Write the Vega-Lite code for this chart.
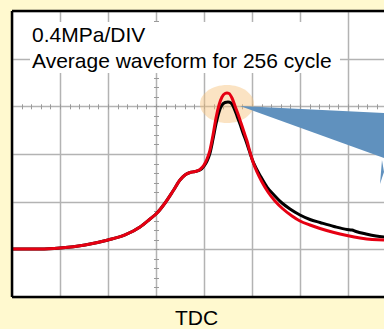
{
  "$schema": "https://vega.github.io/schema/vega-lite/v6.json",
  "autosize": "none",
  "width": 372,
  "height": 286,
  "padding": {"left": 12, "top": 11, "right": 0, "bottom": 32},
  "background": "#FFF9CF",
  "config": {"view": {"stroke": null, "fill": "white"}},
  "resolve": {"axis": {"x": "independent", "y": "independent"}},
  "layer": [
    {
      "data": {"values": [{}]},
      "mark": {"type": "point", "filled": true, "shape": "M-1.42,0A1.42,1 0 1,1 1.42,0A1.42,1 0 1,1 -1.42,0Z", "size": 1444, "color": "#F7C27A", "opacity": 0.45, "strokeWidth": 0},
      "encoding": {
        "x": {"datum": 4.479, "type": "quantitative", "scale": {"domain": [0, 7.75], "nice": false, "zero": false}, "axis": null},
        "y": {"datum": 4.049, "type": "quantitative", "scale": {"domain": [0, 6], "nice": false, "zero": false}, "axis": null}
      }
    },
    {
      "data": {"values": [
        {"part": "wedge", "x": 4.75, "top": 4.007, "bot": 4.007},
        {"part": "wedge", "x": 7.75, "top": 3.860, "bot": 2.916},
        {"part": "spike", "x": 7.667, "top": 2.370, "bot": 2.370},
        {"part": "spike", "x": 7.708, "top": 2.874, "bot": 2.496},
        {"part": "spike", "x": 7.75, "top": 2.622, "bot": 2.622}
      ]},
      "mark": {"type": "area", "color": "#6091BE", "clip": true, "opacity": 1},
      "encoding": {
        "x": {"field": "x", "type": "quantitative", "scale": {"domain": [0, 7.75], "nice": false, "zero": false}, "axis": null},
        "y": {"field": "top", "type": "quantitative", "scale": {"domain": [0, 6], "nice": false, "zero": false}, "axis": null},
        "y2": {"field": "bot"},
        "detail": {"field": "part"}
      }
    },
    {
      "data": {"values": [
        {"x": 0, "p": 1.007}, {"x": 0.583, "p": 1.007}, {"x": 1.0, "p": 1.028}, {"x": 1.521, "p": 1.091},
        {"x": 2.0, "p": 1.196}, {"x": 2.354, "p": 1.301}, {"x": 2.667, "p": 1.468}, {"x": 2.875, "p": 1.636},
        {"x": 3.021, "p": 1.762}, {"x": 3.188, "p": 1.972}, {"x": 3.354, "p": 2.224}, {"x": 3.5, "p": 2.454},
        {"x": 3.604, "p": 2.559}, {"x": 3.708, "p": 2.612}, {"x": 3.813, "p": 2.633},
        {"x": 3.917, "p": 2.664}, {"x": 4.0, "p": 2.748}, {"x": 4.063, "p": 2.853}, {"x": 4.125, "p": 3.021},
        {"x": 4.188, "p": 3.314}, {"x": 4.25, "p": 3.629}, {"x": 4.313, "p": 3.881}, {"x": 4.375, "p": 4.028},
        {"x": 4.438, "p": 4.080}, {"x": 4.5, "p": 4.091}, {"x": 4.563, "p": 4.070}, {"x": 4.625, "p": 3.965},
        {"x": 4.688, "p": 3.797}, {"x": 4.75, "p": 3.629}, {"x": 4.813, "p": 3.440}, {"x": 4.875, "p": 3.272},
        {"x": 4.938, "p": 3.084}, {"x": 5.0, "p": 2.895}, {"x": 5.083, "p": 2.706}, {"x": 5.188, "p": 2.517},
        {"x": 5.313, "p": 2.307}, {"x": 5.458, "p": 2.140}, {"x": 5.625, "p": 1.972}, {"x": 5.792, "p": 1.846},
        {"x": 6.0, "p": 1.720}, {"x": 6.208, "p": 1.626}, {"x": 6.417, "p": 1.563}, {"x": 6.708, "p": 1.479},
        {"x": 6.979, "p": 1.416}, {"x": 7.083, "p": 1.405}, {"x": 7.167, "p": 1.374}, {"x": 7.375, "p": 1.322},
        {"x": 7.583, "p": 1.280}, {"x": 7.917, "p": 1.248}
      ]},
      "mark": {"type": "line", "color": "#000000", "strokeWidth": 3, "interpolate": "monotone", "clip": true},
      "encoding": {
        "x": {"field": "x", "type": "quantitative", "scale": {"domain": [0, 7.75], "nice": false, "zero": false},
          "axis": {"orient": "bottom", "values": [0, 1, 2, 3, 4, 5, 6, 7], "grid": true, "gridColor": "#B3B3B3", "gridWidth": 1.5,
            "labels": false, "ticks": false, "domain": false, "title": "TDC", "titleFont": "Liberation Sans",
            "titleFontSize": 21, "titleFontWeight": "normal", "titleColor": "#000000", "titleX": 184, "titleY": 27,
            "titleAlign": "center", "titleBaseline": "alphabetic", "titleAnchor": null}},
        "y": {"field": "p", "type": "quantitative", "scale": {"domain": [0, 6], "nice": false, "zero": false},
          "axis": {"orient": "left", "values": [0, 1, 2, 3, 4, 5, 6], "grid": true, "gridColor": "#B3B3B3", "gridWidth": 1.5,
            "labels": false, "ticks": false, "domain": false, "title": null}}
      }
    },
    {
      "data": {"values": [
        {"x": 0, "p": 1.007}, {"x": 0.583, "p": 1.007}, {"x": 1.0, "p": 1.028}, {"x": 1.521, "p": 1.091},
        {"x": 2.0, "p": 1.196}, {"x": 2.354, "p": 1.301}, {"x": 2.667, "p": 1.468}, {"x": 2.875, "p": 1.636},
        {"x": 3.021, "p": 1.762}, {"x": 3.188, "p": 1.972}, {"x": 3.354, "p": 2.224}, {"x": 3.5, "p": 2.454},
        {"x": 3.604, "p": 2.559}, {"x": 3.708, "p": 2.612}, {"x": 3.813, "p": 2.633}, {"x": 3.917, "p": 2.675},
        {"x": 4.0, "p": 2.769}, {"x": 4.063, "p": 2.895}, {"x": 4.125, "p": 3.084}, {"x": 4.188, "p": 3.398},
        {"x": 4.25, "p": 3.755}, {"x": 4.313, "p": 4.028}, {"x": 4.375, "p": 4.196}, {"x": 4.438, "p": 4.269},
        {"x": 4.479, "p": 4.279}, {"x": 4.521, "p": 4.269}, {"x": 4.583, "p": 4.175}, {"x": 4.646, "p": 4.007},
        {"x": 4.708, "p": 3.839}, {"x": 4.771, "p": 3.650}, {"x": 4.833, "p": 3.461}, {"x": 4.896, "p": 3.272},
        {"x": 4.958, "p": 3.042}, {"x": 5.021, "p": 2.832}, {"x": 5.104, "p": 2.622}, {"x": 5.208, "p": 2.412},
        {"x": 5.333, "p": 2.203}, {"x": 5.479, "p": 2.014}, {"x": 5.646, "p": 1.846}, {"x": 5.833, "p": 1.699},
        {"x": 6.0, "p": 1.594}, {"x": 6.208, "p": 1.510}, {"x": 6.417, "p": 1.437}, {"x": 6.708, "p": 1.353},
        {"x": 6.979, "p": 1.290}, {"x": 7.25, "p": 1.238}, {"x": 7.5, "p": 1.206}, {"x": 7.75, "p": 1.196},
        {"x": 7.917, "p": 1.196}
      ]},
      "mark": {"type": "line", "color": "#E60012", "strokeWidth": 3, "interpolate": "monotone", "clip": true},
      "encoding": {
        "x": {"field": "x", "type": "quantitative", "scale": {"domain": [0, 7.75], "nice": false, "zero": false},
          "axis": {"orient": "bottom", "values": [0.2, 0.4, 0.6, 0.8, 1, 1.2, 1.4, 1.6, 1.8, 2, 2.2, 2.4, 2.6, 2.8, 3, 3.2, 3.4, 3.6, 3.8, 4, 4.2, 4.4, 4.6, 4.8, 5, 5.2, 5.4, 5.6, 5.8, 6, 6.2, 6.4, 6.6, 6.8, 7, 7.2, 7.4, 7.6],
            "grid": false, "labels": false, "domain": false, "ticks": true, "tickSize": 5, "tickColor": "#9A9A9A", "tickWidth": 1,
            "offset": -193.2, "title": null}},
        "y": {"field": "p", "type": "quantitative", "scale": {"domain": [0, 6], "nice": false, "zero": false},
          "axis": {"orient": "left", "values": [0.2, 0.4, 0.6, 0.8, 1, 1.2, 1.4, 1.6, 1.8, 2, 2.2, 2.4, 2.6, 2.8, 3, 3.2, 3.4, 3.6, 3.8, 4, 4.2, 4.4, 4.6, 4.8, 5, 5.2, 5.4, 5.6, 5.8],
            "grid": false, "labels": false, "domain": false, "ticks": true, "tickSize": 5, "tickColor": "#9A9A9A", "tickWidth": 1,
            "offset": -146.5, "title": null}}
      }
    },
    {
      "data": {"values": [{}]},
      "mark": {"type": "rect", "color": "white"},
      "encoding": {
        "x": {"datum": 0.375, "type": "quantitative", "scale": {"domain": [0, 7.75], "nice": false, "zero": false}, "axis": null},
        "x2": {"datum": 6.833},
        "y": {"datum": 5.769, "type": "quantitative", "scale": {"domain": [0, 6], "nice": false, "zero": false}, "axis": null},
        "y2": {"datum": 4.699}
      }
    },
    {
      "data": {"values": [{}]},
      "mark": {"type": "text", "text": ["0.4MPa/DIV", "Average waveform for 256 cycle"], "align": "left", "baseline": "alphabetic",
        "lineHeight": 26, "font": "Liberation Sans", "fontSize": 21, "color": "#000000"},
      "encoding": {
        "x": {"datum": 0.417, "type": "quantitative", "scale": {"domain": [0, 7.75], "nice": false, "zero": false}, "axis": null},
        "y": {"datum": 5.356, "type": "quantitative", "scale": {"domain": [0, 6], "nice": false, "zero": false}, "axis": null}
      }
    },
    {
      "data": {"values": [{}]},
      "mark": {"type": "rule", "color": "#000000", "strokeWidth": 2.5},
      "encoding": {
        "x": {"datum": 0, "type": "quantitative", "scale": {"domain": [0, 7.75], "nice": false, "zero": false}, "axis": null}
      }
    },
    {
      "data": {"values": [{}]},
      "mark": {"type": "rule", "color": "#000000", "strokeWidth": 2.5},
      "encoding": {
        "y": {"datum": 0, "type": "quantitative", "scale": {"domain": [0, 6], "nice": false, "zero": false}, "axis": null}
      }
    },
    {
      "data": {"values": [{}]},
      "mark": {"type": "rule", "color": "#000000", "strokeWidth": 2.5},
      "encoding": {
        "y": {"datum": 6, "type": "quantitative", "scale": {"domain": [0, 6], "nice": false, "zero": false}, "axis": null}
      }
    }
  ]
}
